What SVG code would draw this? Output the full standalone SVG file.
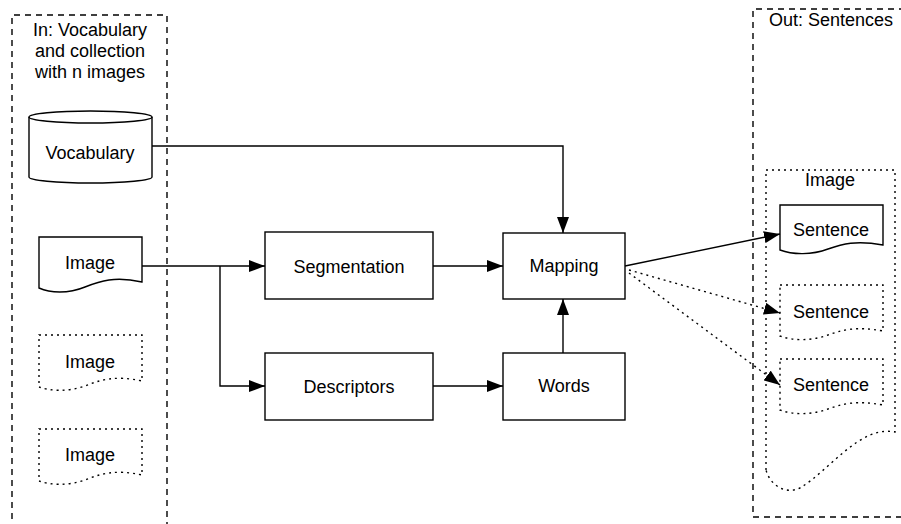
<svg xmlns="http://www.w3.org/2000/svg" width="901" height="524" viewBox="0 0 901 524">
<style>
text{font-family:"Liberation Sans",Arial,sans-serif;font-size:18px;fill:#000;text-anchor:middle}
.s{fill:#fff;stroke:#000;stroke-width:1.4}
.d{fill:#fff;stroke:#000;stroke-width:1.4;stroke-dasharray:2 4}
.c{fill:none;stroke:#000;stroke-width:1.4;stroke-dasharray:6 5}
.e{fill:none;stroke:#000;stroke-width:1.4}
.ed{fill:none;stroke:#000;stroke-width:1.4;stroke-dasharray:2 4}
</style>
<defs>
<marker id="a" viewBox="0 0 16 12" refX="16" refY="6" markerWidth="16" markerHeight="12" markerUnits="userSpaceOnUse" orient="auto">
<path d="M0,0 L16,6 L0,12 Z" fill="#000"/>
</marker>
</defs>
<g id="in-container">
<path class="c" d="M12,530 V15 H167 V530"/>
<text x="90" y="36">In: Vocabulary</text>
<text x="90" y="57">and collection</text>
<text x="90" y="78">with n images</text>
</g>
<g id="out-container">
<path class="c" d="M905,9 H753 V517 H905"/>
<text x="831" y="26">Out: Sentences</text>
</g>
<g id="image-group">
<path class="ed" d="M766,470 V170 H895 V432 C860,425 830,470 800,488 C785,495 770,485 766,470 Z"/>
<text x="830" y="186">Image</text>
</g>
<g id="vocabulary">
<path class="s" d="M29,117 A61.5,6 0 0 1 152,117 V177 A61.5,6 0 0 1 29,177 Z"/>
<path class="e" d="M29,117 A61.5,6 0 0 0 152,117"/>
<text x="90" y="159">Vocabulary</text>
</g>
<g id="image1">
<path class="s" d="M39,237 H142 V282 C115,276 100,281 85,287 C68,294 50,293 39,288 Z"/>
<text x="90" y="269">Image</text>
</g>
<g id="image2">
<path class="d" d="M39,335 H142 V381 C115,375 100,380 85,386 C68,392 50,391 39,387 Z"/>
<text x="90" y="368">Image</text>
</g>
<g id="image3">
<path class="d" d="M39,429 H142 V475 C115,469 100,474 85,480 C68,486 50,485 39,481 Z"/>
<text x="90" y="461">Image</text>
</g>
<g id="segmentation">
<rect class="s" x="265" y="232" width="168" height="67"/>
<text x="349" y="273">Segmentation</text>
</g>
<g id="descriptors">
<rect class="s" x="265" y="353" width="168" height="67"/>
<text x="349" y="393">Descriptors</text>
</g>
<g id="mapping">
<rect class="s" x="503" y="233" width="122" height="66"/>
<text x="564" y="272">Mapping</text>
</g>
<g id="words">
<rect class="s" x="503" y="353" width="122" height="67"/>
<text x="564" y="392">Words</text>
</g>
<g id="sentence1">
<path class="s" d="M780,205 H883 V245 C856,240 842,244 828,249 C812,255 793,255 780,250 Z"/>
<text x="831" y="236">Sentence</text>
</g>
<g id="sentence2">
<path class="d" d="M780,285 H883 V331 C856,326 842,330 828,335 C812,341 793,341 780,336 Z"/>
<text x="831" y="318">Sentence</text>
</g>
<g id="sentence3">
<path class="d" d="M780,359 H883 V405 C856,400 842,404 828,409 C812,415 793,415 780,410 Z"/>
<text x="831" y="391">Sentence</text>
</g>
<g id="connectors">
<path class="e" d="M152,146 H563 V233" marker-end="url(#a)"/>
<path class="e" d="M142,266 H265" marker-end="url(#a)"/>
<path class="e" d="M220,266 V386 H265" marker-end="url(#a)"/>
<path class="e" d="M433,266 H503" marker-end="url(#a)"/>
<path class="e" d="M433,386 H503" marker-end="url(#a)"/>
<path class="e" d="M563,353 V299" marker-end="url(#a)"/>
<path class="e" d="M625,266 L780,234" marker-end="url(#a)"/>
<path class="ed" d="M629,270 L780,313" marker-end="url(#a)"/>
<path class="ed" d="M629,273 L780,385" marker-end="url(#a)"/>
</g>
</svg>
